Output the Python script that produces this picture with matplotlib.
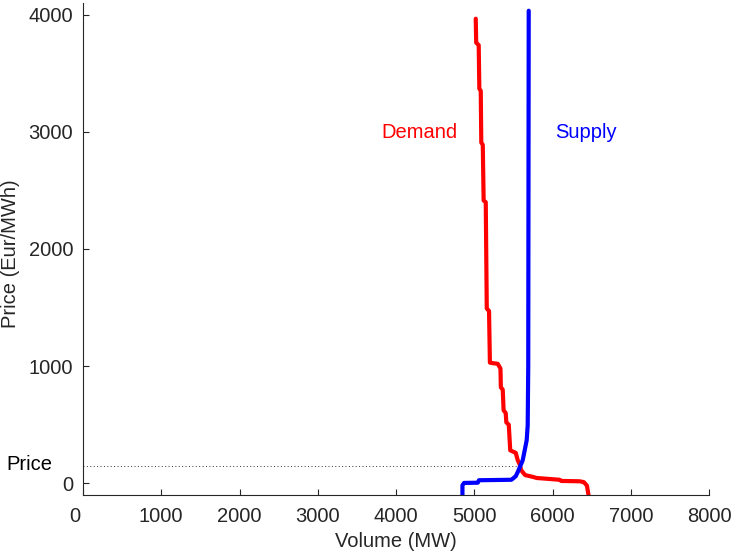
import matplotlib
matplotlib.use("Agg")
import matplotlib.pyplot as plt
from matplotlib.transforms import ScaledTranslation

plt.rcParams['font.family'] = ['Liberation Sans', 'DejaVu Sans']

demand_volume = [5019, 5025, 5057, 5065, 5083, 5090, 5109, 5120, 5147, 5160, 5189, 5200,
                 5240, 5300, 5335, 5340, 5364, 5375, 5402, 5410, 5441, 5460, 5530, 5556,
                 5581, 5600, 5650, 5747, 5800, 5900, 6092, 6110, 6347, 6400, 6440, 6460, 6470]
demand_price = [3966, 3761, 3740, 3369, 3350, 2908, 2890, 2414, 2400, 1493, 1470, 1030,
                1025, 1020, 980, 819, 800, 623, 600, 520, 500, 281, 260, 196,
                160, 111, 70, 55, 45, 40, 30, 20, 17, 10, -20, -100, -500]

supply_volume = [4849, 4849, 4870, 5045, 5060, 5475, 5530, 5556, 5619, 5670, 5683, 5690, 5696]
supply_price = [-500, -17, 3, 5, 26, 30, 60, 96, 196, 367, 495, 1000, 4034]

clearing_price = 145
clearing_volume = 5560

x_ticks = [0, 1000, 2000, 3000, 4000, 5000, 6000, 7000, 8000]
y_ticks = [0, 1000, 2000, 3000, 4000]

axc = '#262626'
fig = plt.figure(figsize=(7.33, 5.56), dpi=100)
ax = fig.add_axes([83/733, 1-495/556, (709-83)/733, (495-3)/556])

ax.plot(demand_volume, demand_price, color='#ff0000', lw=3, solid_joinstyle='round', solid_capstyle='round')
ax.plot(supply_volume, supply_price, color='#0000ff', lw=3, solid_joinstyle='round', solid_capstyle='round')
ax.plot([0, clearing_volume], [clearing_price, clearing_price], color='#333333', lw=0.7,
        linestyle=(0, (1, 2.5)))

ax.set_xlim(0, 8000)
ax.set_ylim(-100, 4100)
ax.set_xticks(x_ticks)
ax.set_yticks(y_ticks)
ax.tick_params(direction='in', length=4, width=0.8, colors=axc, labelsize=14.5)
ax.tick_params(axis='x', pad=9)
ax.tick_params(axis='y', pad=7)
for s in ['top', 'right']:
    ax.spines[s].set_visible(False)
for s in ['left', 'bottom']:
    ax.spines[s].set_color(axc)
    ax.spines[s].set_linewidth(0.8)

ax.set_xlabel('Volume (MW)', fontsize=14.5, color=axc, labelpad=4)
ax.set_ylabel('Price (Eur/MWh)', fontsize=14.5, color=axc)
ax.yaxis.set_label_coords(-0.100, 0.49)

ax.text(4300, 2994, 'Demand', color='#ff0000', fontsize=14.5, ha='center', va='center')
ax.text(6424, 2994, 'Supply', color='#0000ff', fontsize=14.5, ha='center', va='center')
ax.text(-396, 160, 'Price', color='black', fontsize=14.5, ha='right', va='center', clip_on=False)

first = ax.xaxis.get_major_ticks()[0].label1
first.set_transform(first.get_transform() + ScaledTranslation(-8/100, 0, fig.dpi_scale_trans))

fig.savefig('out.png', dpi=100)
